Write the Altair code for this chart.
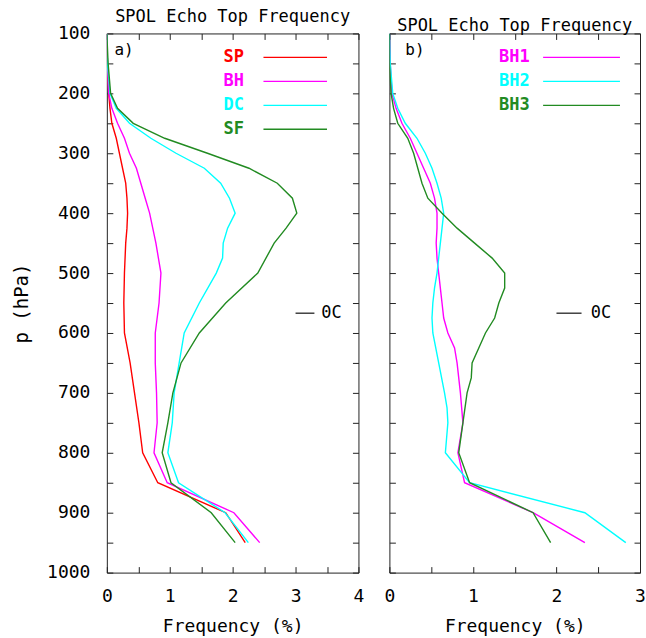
import altair as alt
import pandas as pd

FONT = "DejaVu Sans Mono"
AXIS_COLOR = "#222222"
W_A, W_B, H = 252, 251, 540

# ---------------- Panel a) : pressure levels (hPa) and frequency (%) ----------------
SP_P = [100, 150, 200, 225, 250, 275, 300, 325, 350, 375, 400, 425, 450, 500,
        550, 600, 650, 700, 750, 800, 850, 900, 950]
SP_V = [0, 0.01, 0.03, 0.05, 0.08, 0.15, 0.20, 0.25, 0.30, 0.32, 0.33, 0.32, 0.30, 0.28,
        0.27, 0.28, 0.37, 0.44, 0.51, 0.57, 0.81, 1.89, 2.20]

BH_P = [100, 150, 200, 225, 250, 275, 300, 325, 350, 375, 400, 425, 450, 475, 500,
        550, 600, 650, 700, 750, 800, 850, 900, 950]
BH_V = [0, 0.01, 0.03, 0.08, 0.17, 0.28, 0.36, 0.47, 0.54, 0.61, 0.68, 0.73, 0.78, 0.82, 0.86,
        0.83, 0.77, 0.77, 0.79, 0.80, 0.75, 0.96, 2.02, 2.43]

DC_P = [100, 150, 200, 225, 250, 275, 300, 325, 350, 375, 400, 425, 450, 475, 500,
        550, 600, 650, 700, 750, 800, 850, 900, 950]
DC_V = [0, 0.01, 0.05, 0.15, 0.36, 0.70, 1.10, 1.55, 1.81, 1.95, 2.04, 1.92, 1.85, 1.84, 1.74,
        1.47, 1.23, 1.15, 1.07, 1.04, 0.97, 1.14, 1.88, 2.25]

SF_P = [100, 150, 175, 200, 225, 250, 275, 300, 325, 350, 375, 400, 425, 450, 500,
        550, 600, 650, 700, 750, 800, 850, 900, 950]
SF_V = [0, 0.02, 0.04, 0.06, 0.17, 0.42, 0.92, 1.60, 2.26, 2.71, 2.95, 3.02, 2.85, 2.66, 2.40,
        1.89, 1.47, 1.18, 1.05, 0.97, 0.88, 1.02, 1.66, 2.04]

# ---------------- Panel b) ----------------
BH1_P = [100, 150, 200, 225, 250, 275, 300, 325, 350, 375, 400, 425, 450, 475, 500,
         525, 550, 575, 600, 625, 650, 700, 750, 800, 850, 900, 950]
BH1_V = [0, 0.01, 0.03, 0.08, 0.15, 0.25, 0.33, 0.41, 0.49, 0.54, 0.57, 0.57, 0.56, 0.57, 0.59,
         0.61, 0.63, 0.65, 0.70, 0.78, 0.81, 0.85, 0.88, 0.82, 0.90, 1.72, 2.34]

BH2_P = [100, 150, 200, 225, 250, 275, 300, 325, 350, 375, 400, 425, 450, 475, 500,
         525, 550, 575, 600, 650, 700, 725, 750, 800, 850, 900, 950]
BH2_V = [0, 0.01, 0.04, 0.10, 0.19, 0.33, 0.43, 0.51, 0.57, 0.62, 0.65, 0.63, 0.61, 0.59, 0.57,
         0.54, 0.52, 0.51, 0.52, 0.59, 0.66, 0.69, 0.70, 0.67, 0.96, 2.34, 2.83]

BH3_P = [100, 150, 200, 225, 250, 275, 300, 325, 350, 375, 400, 425, 450, 475, 500,
         525, 550, 575, 600, 650, 675, 700, 750, 800, 850, 900, 950]
BH3_V = [0, 0.0, 0.02, 0.05, 0.10, 0.22, 0.29, 0.34, 0.39, 0.46, 0.63, 0.81, 1.02, 1.23, 1.38,
         1.38, 1.31, 1.26, 1.15, 0.99, 0.98, 0.93, 0.88, 0.83, 0.96, 1.72, 1.93]

NAMES_A = ["SP", "BH", "DC", "SF"]
COLORS_A = ["#ff0000", "#ff00ff", "#00ffff", "#228b22"]
NAMES_B = ["BH1", "BH2", "BH3"]
COLORS_B = ["#ff00ff", "#00ffff", "#228b22"]

TITLE = "SPOL Echo Top Frequency"
X_TITLE = "Frequency (%)"
Y_TITLE = "p (hPa)"


def long_df(names, levels, values):
    rows = []
    for n, ps, vs in zip(names, levels, values):
        for p, v in zip(ps, vs):
            rows.append({"name": n, "p": p, "x": v})
    return pd.DataFrame(rows)


def panel(df, names, colors, xmax, width, letter, letter_x, leg_rows, leg_tx,
          leg_x1, leg_x2, oc_x1, oc_x2, oc_tx, first):
    xs = alt.Scale(domain=[0, xmax], nice=False, zero=False)
    ys = alt.Scale(domain=[100, 1000], reverse=True, nice=False, zero=False)
    cs = alt.Scale(domain=names, range=colors)
    xticks = [i * 0.5 for i in range(int(xmax * 2) + 1)]
    yticks = list(range(100, 1001, 50))
    xaxis = alt.Axis(values=xticks, format="~g",
                     labelExpr="datum.value % 1 == 0 ? datum.label : ''",
                     ticks=False, domain=False, grid=True, gridColor=AXIS_COLOR,
                     gridDash=[6, H - 12, 6, 3000], gridWidth=1, gridOpacity=1,
                     labelFont=FONT, labelFontSize=18, labelColor="black",
                     labelPadding=15, labelFlush=False, labelOverlap=False,
                     titleFont=FONT, titleFontSize=18, titleFontWeight="normal",
                     titleColor="black", titlePadding=12)
    yaxis = alt.Axis(values=yticks, format="d",
                     labelExpr="datum.value % 100 == 0 ? datum.label : ''",
                     labels=first, ticks=False, domain=False, grid=True,
                     gridColor=AXIS_COLOR, gridDash=[6, width - 12, 6, 3000],
                     gridWidth=1, gridOpacity=1,
                     labelFont=FONT, labelFontSize=18, labelColor="black",
                     labelPadding=17, labelFlush=False, labelOverlap=False,
                     titleFont=FONT, titleFontSize=19, titleFontWeight="normal",
                     titleColor="black", titlePadding=15)
    ytitle = Y_TITLE if first else None

    def ex(field):
        return alt.X(field, type="quantitative", scale=xs, axis=xaxis, title=X_TITLE)

    def ey(field):
        return alt.Y(field, type="quantitative", scale=ys, axis=yaxis, title=ytitle)

    color = alt.Color("name:N", scale=cs, legend=None)

    lines = alt.Chart(df).mark_line(strokeWidth=1.4, clip=True).encode(
        x=ex("x"), y=ey("p"), color=color, order=alt.Order("p:Q"))

    leg = pd.DataFrame({"name": names, "p": leg_rows,
                        "x": [leg_tx] * len(names),
                        "x1": [leg_x1] * len(names),
                        "x2": [leg_x2] * len(names)})
    leg_text = alt.Chart(leg).mark_text(align="right", baseline="middle", font=FONT,
                                        fontSize=17, fontWeight="bold").encode(
        x=ex("x"), y=ey("p"), text="name:N", color=color)
    leg_rule = alt.Chart(leg).mark_rule(strokeWidth=1.4).encode(
        x=ex("x1"), x2=alt.X2("x2"), y=ey("p"), color=color)

    ann = pd.DataFrame({"label": [letter], "x": [letter_x], "p": [128]})
    letter_text = alt.Chart(ann).mark_text(align="left", baseline="middle", font=FONT,
                                           fontSize=16, color="black").encode(
        x=ex("x"), y=ey("p"), text="label:N")

    oc = pd.DataFrame({"label": ["0C"], "x1": [oc_x1], "x2": [oc_x2],
                       "x": [oc_tx], "p": [567]})
    oc_rule = alt.Chart(oc).mark_rule(strokeWidth=1.4, color="#333333").encode(
        x=ex("x1"), x2=alt.X2("x2"), y=ey("p"))
    oc_text = alt.Chart(oc).mark_text(align="left", baseline="middle", font=FONT,
                                      fontSize=17, color="black").encode(
        x=ex("x"), y=ey("p"), text="label:N")

    return alt.layer(lines, leg_rule, leg_text, letter_text, oc_rule, oc_text).properties(
        width=width, height=H,
        title=alt.TitleParams(TITLE, font=FONT, fontSize=17, fontWeight="normal",
                              color="black", anchor="middle", offset=-2, frame="group"))


df_a = long_df(NAMES_A, [SP_P, BH_P, DC_P, SF_P], [SP_V, BH_V, DC_V, SF_V])
df_b = long_df(NAMES_B, [BH1_P, BH2_P, BH3_P], [BH1_V, BH2_V, BH3_V])

left = panel(df_a, NAMES_A, COLORS_A, 4, W_A, "a)", 0.12, [140, 180, 220, 260],
             2.18, 2.49, 3.5, 3.0, 3.3, 3.41, True)
right = panel(df_b, NAMES_B, COLORS_B, 3, W_B, "b)", 0.19, [140, 180, 220],
              1.68, 1.84, 2.76, 2.0, 2.3, 2.41, False)

chart = alt.hconcat(left, right, spacing=31, bounds="flush").resolve_scale(
    x="independent", y="independent", color="independent"
).configure_view(stroke=AXIS_COLOR, strokeWidth=1).properties(
    padding={"left": 12, "top": 7, "right": 0, "bottom": 1},
    background="white")

chart.save("out.html", embed_options={"renderer": "svg", "actions": False})
